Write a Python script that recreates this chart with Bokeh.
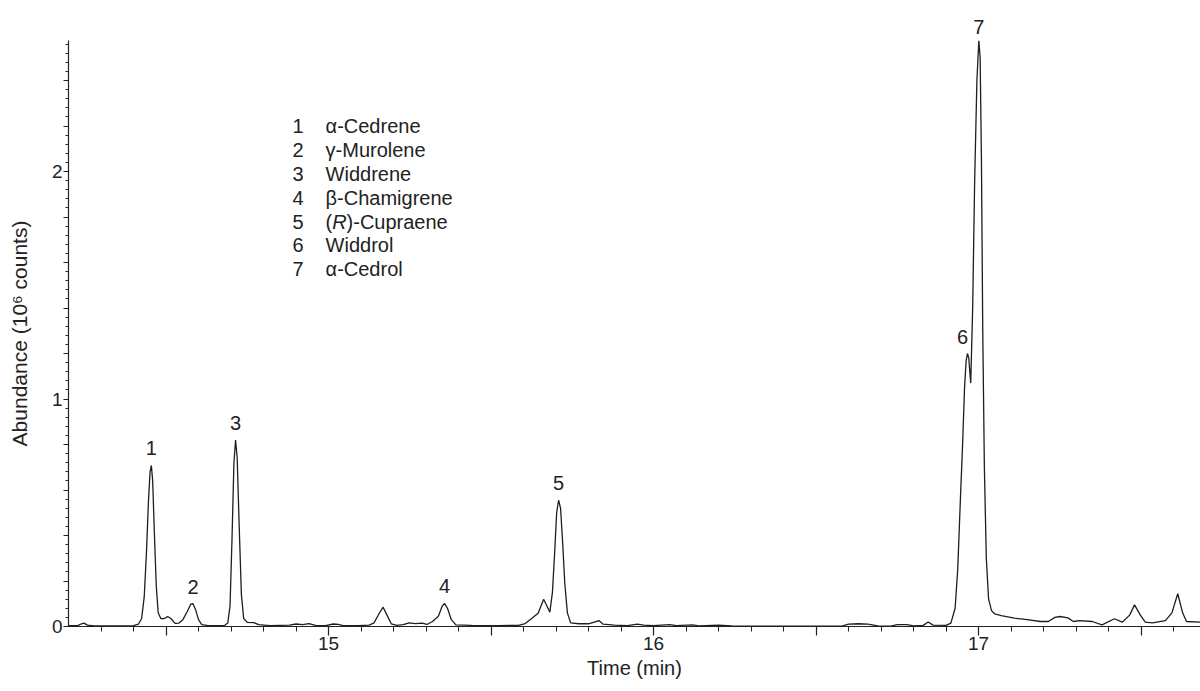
from bokeh.plotting import figure
from bokeh.models import (ColumnDataSource, FixedTicker, CustomJSTickFormatter,
                          LabelSet, Label, Range1d, Title)
from bokeh.core.properties import value
from bokeh.embed import file_html
from bokeh.resources import INLINE

FONT = "Liberation Sans"

# ---- data ----
time_min = [
    14.200, 14.230, 14.240, 14.248, 14.258, 14.280, 14.350, 14.400, 14.415, 14.425,
    14.433, 14.440, 14.446, 14.451, 14.455, 14.459, 14.464, 14.470, 14.476, 14.484,
    14.495, 14.505, 14.515, 14.528, 14.540, 14.552, 14.565, 14.576, 14.583, 14.592,
    14.600, 14.610, 14.630, 14.680, 14.690, 14.697, 14.703, 14.709, 14.714, 14.719,
    14.725, 14.732, 14.739, 14.750, 14.770, 14.785, 14.820, 14.880, 14.900, 14.920,
    14.940, 14.960, 14.990, 15.015, 15.030, 15.045, 15.090, 15.125, 15.140, 15.155,
    15.168, 15.180, 15.193, 15.210, 15.230, 15.248, 15.268, 15.288, 15.303, 15.320,
    15.338, 15.350, 15.357, 15.366, 15.378, 15.392, 15.440, 15.520, 15.585, 15.605,
    15.622, 15.645, 15.662, 15.672, 15.681, 15.689, 15.696, 15.702, 15.708, 15.714,
    15.720, 15.727, 15.735, 15.745, 15.770, 15.800, 15.820, 15.832, 15.845, 15.880,
    15.920, 15.950, 15.970, 16.000, 16.050, 16.070, 16.120, 16.140, 16.200, 16.240,
    16.300, 16.450, 16.580, 16.600, 16.630, 16.660, 16.690, 16.730, 16.750, 16.780,
    16.800, 16.830, 16.845, 16.860, 16.900, 16.915, 16.928, 16.936, 16.944, 16.951,
    16.957, 16.962, 16.966, 16.970, 16.976, 16.982, 16.988, 16.995, 17.001, 17.005,
    17.009, 17.013, 17.018, 17.024, 17.031, 17.040, 17.050, 17.070, 17.110, 17.150,
    17.190, 17.215, 17.235, 17.250, 17.275, 17.292, 17.310, 17.350, 17.380, 17.418,
    17.442, 17.465, 17.480, 17.498, 17.513, 17.535, 17.575, 17.595, 17.613, 17.628,
    17.640, 17.683,
]
abundance = [  # 10^6 counts
    0.004, 0.005, 0.012, 0.015, 0.006, 0.003, 0.003, 0.004, 0.010, 0.035,
    0.130, 0.330, 0.550, 0.680, 0.708, 0.640, 0.420, 0.180, 0.060, 0.035,
    0.035, 0.044, 0.035, 0.014, 0.015, 0.030, 0.065, 0.098, 0.100, 0.070,
    0.030, 0.008, 0.004, 0.004, 0.015, 0.090, 0.380, 0.720, 0.820, 0.740,
    0.450, 0.140, 0.035, 0.018, 0.017, 0.008, 0.004, 0.006, 0.011, 0.008,
    0.013, 0.005, 0.004, 0.011, 0.009, 0.004, 0.004, 0.006, 0.016, 0.055,
    0.085, 0.050, 0.012, 0.005, 0.008, 0.016, 0.013, 0.015, 0.009, 0.022,
    0.045, 0.090, 0.102, 0.080, 0.030, 0.007, 0.005, 0.004, 0.005, 0.013,
    0.032, 0.058, 0.120, 0.090, 0.063, 0.150, 0.330, 0.500, 0.555, 0.520,
    0.380, 0.190, 0.060, 0.016, 0.012, 0.012, 0.020, 0.026, 0.010, 0.006,
    0.004, 0.010, 0.006, 0.004, 0.008, 0.004, 0.007, 0.003, 0.006, 0.003,
    0.002, 0.002, 0.002, 0.010, 0.012, 0.010, 0.003, 0.002, 0.008, 0.008,
    0.003, 0.005, 0.020, 0.006, 0.005, 0.015, 0.080, 0.250, 0.550, 0.800,
    1.050, 1.170, 1.200, 1.180, 1.070, 1.400, 1.950, 2.400, 2.576, 2.500,
    2.050, 1.300, 0.700, 0.300, 0.120, 0.070, 0.055, 0.048, 0.037, 0.030,
    0.022, 0.022, 0.040, 0.044, 0.038, 0.022, 0.026, 0.022, 0.007, 0.034,
    0.019, 0.050, 0.095, 0.050, 0.019, 0.016, 0.026, 0.060, 0.144, 0.060,
    0.022, 0.019,
]

peak_numbers = ["1", "2", "3", "4", "5", "6", "7"]
peak_time = [14.455, 14.583, 14.714, 15.357, 15.708, 16.966, 17.001]
peak_height = [0.708, 0.100, 0.820, 0.102, 0.555, 1.200, 2.576]
compound_names = ["α-Cedrene", "γ-Murolene", "Widdrene", "β-Chamigrene",
                  "(R)-Cupraene", "Widdrol", "α-Cedrol"]

x_major_ticks = [14.5, 15.0, 15.5, 16.0, 16.5, 17.0, 17.5]
x_minor_ticks = [round(14.3 + 0.1 * k, 2) for k in range(34)]
y_major_ticks = [round(0.2 * k, 2) for k in range(13)]
y_minor_ticks = [round(0.04 * k, 2) for k in range(65)]

X_START, X_END = 14.2, 17.683
Y_START, Y_END = 0.0, 2.576

W, H = 1200, 691
BORDER_L, BORDER_R, BORDER_T, BORDER_B = 68, 0, 40, 65

p = figure(width=W, height=H, output_backend="svg", toolbar_location=None,
           x_range=Range1d(X_START, X_END), y_range=Range1d(Y_START, Y_END),
           min_border_left=BORDER_L, min_border_right=BORDER_R,
           min_border_top=BORDER_T, min_border_bottom=BORDER_B)
p.outline_line_color = None
p.xgrid.visible = False
p.ygrid.visible = False
p.background_fill_color = "white"
p.border_fill_color = "white"

src = ColumnDataSource(dict(t=time_min, a=abundance))
p.line("t", "a", source=src, line_color="#1e1e1e", line_width=1.3)

fmt = CustomJSTickFormatter(
    code="return Math.abs(tick - Math.round(tick)) < 1e-6 ? Math.round(tick).toString() : '';")

for ax in (p.xaxis[0], p.yaxis[0]):
    ax.axis_line_color = "#222222"
    ax.axis_line_width = 1.2
    ax.major_tick_line_color = "#222222"
    ax.minor_tick_line_color = "#222222"
    ax.major_tick_line_width = 1.2
    ax.minor_tick_line_width = 1.0
    ax.major_tick_in = 0
    ax.minor_tick_in = 0
    ax.major_label_text_font = FONT
    ax.major_label_text_font_size = "19px"
    ax.major_label_text_color = "#222222"
    ax.axis_label_text_font = FONT
    ax.axis_label_text_font_size = "20px"
    ax.axis_label_text_font_style = "normal"
    ax.axis_label_text_color = "#222222"
    ax.formatter = fmt

xa = p.xaxis[0]
xa.ticker = FixedTicker(ticks=x_major_ticks, minor_ticks=x_minor_ticks)
xa.major_tick_out = 9
xa.minor_tick_out = 5
xa.major_label_standoff = 1
xa.axis_label = "Time (min)"
xa.axis_label_standoff = 4

ya = p.yaxis[0]
ya.ticker = FixedTicker(ticks=y_major_ticks, minor_ticks=y_minor_ticks)
ya.major_tick_out = 5
ya.minor_tick_out = 3
ya.major_label_standoff = 1
ya.axis_label = "Abundance (10⁶ counts)"
ya.axis_label_text_font_size = "21px"
ya.axis_label_standoff = 18

# peak numbers above the peaks (all but the tallest, which sits above the frame)
dx = [0, 0, 0, 0, 0, -5]
lsrc = ColumnDataSource(dict(t=peak_time[:-1], h=peak_height[:-1],
                             n=peak_numbers[:-1], dx=dx))
p.add_layout(LabelSet(x="t", y="h", text="n", source=lsrc, x_offset="dx", y_offset=10,
                      text_align="center", text_baseline="bottom",
                      text_font=value(FONT), text_font_size=value("20px"),
                      text_color="#222222"))

# number of the tallest peak, placed in the band above the frame at its retention time
frame_w = W - BORDER_L - BORDER_R
sx_top = (peak_time[-1] - X_START) / (X_END - X_START) * frame_w
half_digit = 0.556 * 20 / 2
p.add_layout(Title(text=peak_numbers[-1], align="left", offset=sx_top - half_digit,
                   standoff=14, text_font=FONT, text_font_size="20px",
                   text_font_style="normal", text_color="#222222"), "above")

# compound key
num_x, name_x = 14.889, 14.991
top_y, step_y = 2.198, 0.1046
for i, (num, name) in enumerate(zip(peak_numbers, compound_names)):
    yy = top_y - i * step_y
    p.add_layout(Label(x=num_x, y=yy, text=num, text_align="left", text_baseline="middle",
                       text_font=FONT, text_font_size="20px", text_color="#222222"))
    if name.startswith("(R)"):
        parts = [("(", 0, "normal"), ("R", 6.7, "italic"), (name[2:], 21.0, "normal")]
        for txt, off, style in parts:
            p.add_layout(Label(x=name_x, y=yy, text=txt, x_offset=off, text_align="left",
                               text_baseline="middle", text_font=FONT,
                               text_font_size="20px", text_font_style=style,
                               text_color="#222222"))
    else:
        p.add_layout(Label(x=name_x, y=yy, text=name, text_align="left",
                           text_baseline="middle", text_font=FONT,
                           text_font_size="20px", text_color="#222222"))

open("out.html", "w").write(file_html(p, INLINE))
